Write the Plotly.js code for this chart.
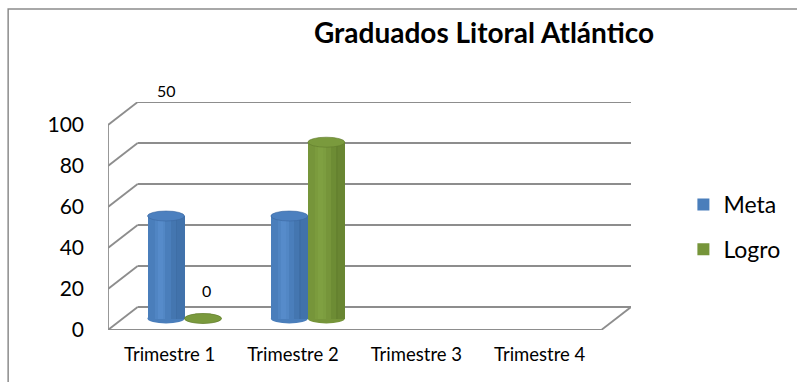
<!DOCTYPE html>
<html>
<head>
<meta charset="utf-8">
<script src="https://cdn.plot.ly/plotly-3.0.1.min.js"></script>
<style>
  html, body { margin: 0; padding: 0; background: #fff; }
  #chart { width: 797px; height: 382px; }
</style>
</head>
<body>
<div id="chart"></div>
<script>
// Graduados por trimestre: meta vs logro
const categories = ['Trimestre 1', 'Trimestre 2', 'Trimestre 3', 'Trimestre 4'];
const metaValues = [50, 50, null, null];
const logroValues = [0, 86, null, null];
const yTickValues = [0, 20, 40, 60, 80, 100];
const seriesNames = ['Meta', 'Logro'];

// Plot box (front plane) in pixels
const L = 108, R = 637, T = 102, B = 330;
const W = R - L, H = B - T;
const DEPTH_PX_X = 30, DEPTH_PX_Y = 23;     // front-to-back offset of the 3D box
const PX_PER_CAT = (W - DEPTH_PX_X) / categories.length;
const PX_PER_UNIT = 2.05;

const xMin = -0.5;
const xMax = xMin + W / PX_PER_CAT;
const yMax = H / PX_PER_UNIT;
const DX = DEPTH_PX_X / PX_PER_CAT;          // depth in x units
const DY = DEPTH_PX_Y / PX_PER_UNIT;         // depth in y units
const frontLeft = xMin, frontRight = xMax - DX;
const backLeft = xMin + DX, backRight = xMax;
const base = DY / 2;                         // bars stand at mid depth
const barW = 0.3;
const gridColor = '#8d8d8d';

const colors = {
  Meta: { body: '#4a7ebb', light: '#5d93d3', dark: '#3a679f', top: '#4c80bf' },
  Logro: { body: '#76953a', light: '#86a746', dark: '#5f7a2c', top: '#7a9a3d' }
};

const idx = categories.map((_, i) => i);
const seriesList = [
  { name: seriesNames[0], values: metaValues, off: -barW / 2 },
  { name: seriesNames[1], values: logroValues, off: barW / 2 }
];

const traces = [];
const shapes = [];

// 3D box: back wall gridlines, left wall diagonals, floor outline
const gridLine = { color: gridColor, width: 1.8 };
yTickValues.forEach(v => {
  shapes.push({ type: 'line', xref: 'x', yref: 'y', layer: 'below',
    x0: backLeft, x1: backRight, y0: v + DY, y1: v + DY, line: gridLine });
  shapes.push({ type: 'line', xref: 'x', yref: 'y', layer: 'below',
    x0: frontLeft, x1: backLeft, y0: v, y1: v + DY, line: gridLine });
});
shapes.push({ type: 'line', xref: 'x', yref: 'y', layer: 'below',
  x0: frontLeft, x1: frontLeft, y0: 0, y1: yTickValues[yTickValues.length - 1], line: gridLine });
shapes.push({ type: 'line', xref: 'x', yref: 'y', layer: 'below',
  x0: frontLeft, x1: frontRight, y0: 0, y1: 0, line: gridLine });
shapes.push({ type: 'line', xref: 'x', yref: 'y', layer: 'below',
  x0: frontRight, x1: backRight, y0: 0, y1: DY, line: gridLine });

// Outer chart frame
shapes.push({ type: 'rect', xref: 'paper', yref: 'paper', layer: 'below',
  x0: (7 - L) / W, x1: (820 - L) / W, y0: (B - 400) / H, y1: (B - 9) / H,
  line: { color: '#8c8c8c', width: 1.5 }, fillcolor: 'rgba(0,0,0,0)' });

// Soft shading bands across each cylinder: [offset, width, colour key, opacity]
const bands = [
  [-0.20, 0.22, 'light', 0.35],
  [-0.12, 0.20, 'light', 0.45],
  [ 0.22, 0.18, 'dark', 0.35],
  [ 0.38, 0.24, 'dark', 0.55]
];

seriesList.forEach(s => {
  const c = colors[s.name];
  const xs = idx.map(i => i + DX / 2 + s.off);
  // cylinder body
  traces.push({ type: 'bar', name: s.name, x: xs, y: s.values,
    base: base, width: barW, marker: { color: c.body, line: { width: 0 } },
    legendgroup: s.name, showlegend: true, hoverinfo: 'skip' });
  bands.forEach(b => {
    traces.push({ type: 'bar', x: xs.map(x => x + barW * b[0]), y: s.values,
      base: base, width: barW * b[1], marker: { color: c[b[2]], line: { width: 0 } },
      legendgroup: s.name, showlegend: false, hoverinfo: 'skip', opacity: b[3] });
  });
  // cylinder caps
  s.values.forEach((v, i) => {
    if (v === null) return;
    shapes.push({ type: 'circle', xref: 'x', yref: 'y', ysizemode: 'pixel',
      yanchor: base, layer: 'below', x0: xs[i] - barW / 2, x1: xs[i] + barW / 2,
      y0: -5, y1: 5, fillcolor: c.body, line: { width: 0 } });
    shapes.push({ type: 'circle', xref: 'x', yref: 'y', ysizemode: 'pixel',
      yanchor: base + v, layer: 'above', x0: xs[i] - barW / 2, x1: xs[i] + barW / 2,
      y0: -5, y1: 5, fillcolor: c.top, line: { color: c.dark, width: 0.6 } });
  });
});

// Data labels
const annotations = [
  { text: String(metaValues[0]), xref: 'x', yref: 'paper',
    x: idx[0] + DX / 2 + seriesList[0].off, y: (B - 91) / H, yanchor: 'middle',
    showarrow: false, font: { size: 16, color: '#000' } },
  { text: String(logroValues[0]), xref: 'x', yref: 'y',
    x: idx[0] + DX / 2 + seriesList[1].off + 0.03, y: base + logroValues[0], yshift: 28,
    yanchor: 'middle', showarrow: false, font: { size: 16, color: '#000' } }
];

const layout = {
  width: 797, height: 382,
  margin: { l: L, r: 797 - R, t: T, b: 382 - B, pad: 0 },
  paper_bgcolor: '#fff', plot_bgcolor: 'rgba(0,0,0,0)',
  font: { family: 'Lato, "DejaVu Sans", sans-serif', color: '#000' },
  title: { text: '<b>Graduados Litoral Atlántico</b>', xref: 'container', yref: 'container',
    x: 484 / 797, xanchor: 'center', y: 1 - 33 / 382, yanchor: 'middle',
    font: { size: 28, color: '#000' } },
  barmode: 'overlay',
  bargap: 0,
  xaxis: { range: [xMin, xMax], tickmode: 'array', tickvals: idx, ticktext: categories,
    showgrid: false, zeroline: false, showline: false, ticks: '',
    ticklabelstandoff: 11, tickfont: { size: 18.5 } },
  yaxis: { range: [0, yMax], tickmode: 'array', tickvals: yTickValues,
    showgrid: false, zeroline: false, showline: false, ticks: '',
    ticklabelstandoff: 23, tickfont: { size: 21 } },
  legend: { x: (690 - L) / W, xanchor: 'left', y: (B - 183) / H, yanchor: 'top',
    font: { size: 23 }, traceorder: 'grouped', tracegroupgap: 12,
    bgcolor: 'rgba(0,0,0,0)' },
  shapes: shapes,
  annotations: annotations,
  showlegend: true
};

Plotly.newPlot('chart', traces, layout, { displayModeBar: false, staticPlot: true });
</script>
</body>
</html>
